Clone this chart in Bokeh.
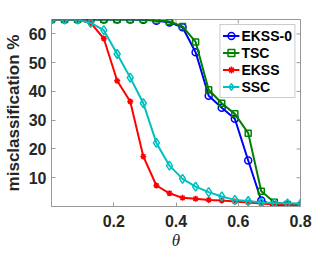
from bokeh.plotting import figure
from bokeh.models import Range1d, FixedTicker, Legend
from bokeh.embed import file_html
from bokeh.resources import INLINE

theta = [0.0, 0.042, 0.084, 0.126, 0.168, 0.211, 0.253, 0.295, 0.337, 0.379,
         0.421, 0.463, 0.505, 0.547, 0.589, 0.632, 0.674, 0.716, 0.758, 0.8]
ekss0 = [65, 65, 65, 65, 65, 65, 65, 64.9, 64.6, 64.0,
         62.3, 53.6, 38.5, 34.3, 30.5, 16.0, 2.1, 0.3, 0.1, 0.1]
tsc = [65, 65, 65, 65, 65, 65, 65, 65, 64.7, 64.3,
       62.6, 57.2, 40.6, 35.9, 32.2, 25.5, 5.3, 1.5, 0.7, 0.3]
ekss = [65, 65, 65, 63.8, 58.4, 43.7, 36.5, 17.4, 7.3, 4.6,
        3.0, 2.7, 2.3, 2.1, 1.7, 1.4, 1.0, 0.7, 0.5, 0.3]
ssc = [65, 65, 65, 63.8, 61.3, 53.0, 44.8, 35.9, 22.1, 14.2,
       9.6, 6.9, 5.0, 3.5, 2.3, 1.9, 1.4, 1.2, 1.1, 1.0]
x_ticks = [0.2, 0.4, 0.6, 0.8]
y_ticks = [10, 20, 30, 40, 50, 60]
x_min, x_max = 0.0, 0.8
y_min, y_max = 0, 65
x_label = "\u03b8"
y_label = "misclassification %"

AX = "#999999"
TXT = "#262626"
FONT = "Liberation Sans"

p = figure(width=332, height=253, output_backend="svg", toolbar_location=None,
           x_range=Range1d(x_min, x_max), y_range=Range1d(y_min, y_max),
           min_border_left=46, min_border_right=32, min_border_top=19,
           min_border_bottom=47)
p.grid.visible = False
p.outline_line_color = AX
p.background_fill_color = "white"
p.border_fill_color = "white"

for ax in (p.xaxis[0], p.yaxis[0]):
    ax.axis_line_color = AX
    ax.major_tick_line_color = AX
    ax.major_tick_in = 4
    ax.major_tick_out = 0
    ax.minor_tick_line_color = None
    ax.major_label_text_font = FONT
    ax.major_label_text_font_style = "bold"
    ax.major_label_text_color = TXT

p.xaxis.ticker = FixedTicker(ticks=x_ticks)
p.yaxis.ticker = FixedTicker(ticks=y_ticks)
p.xaxis.major_label_text_font_size = "16px"
p.yaxis.major_label_text_font_size = "16px"
p.xaxis.major_label_standoff = 8
p.yaxis.major_label_standoff = 5

p.yaxis.axis_label = y_label
p.yaxis.axis_label_text_font = FONT
p.yaxis.axis_label_text_font_style = "bold"
p.yaxis.axis_label_text_font_size = "17px"
p.yaxis.axis_label_text_color = TXT
p.yaxis.axis_label_standoff = 3

p.xaxis.axis_label = x_label
p.xaxis.axis_label_text_font = "Liberation Serif"
p.xaxis.axis_label_text_font_style = "italic"
p.xaxis.axis_label_text_font_size = "17px"
p.xaxis.axis_label_text_color = TXT
p.xaxis.axis_label_standoff = 1

# inward ticks on the top and right sides of the box
tick_dx = (x_max - x_min) * 4 / 254
tick_dy = (y_max - y_min) * 4 / 187
p.segment(x0=x_ticks, x1=x_ticks, y0=[y_max] * len(x_ticks),
          y1=[y_max - tick_dy] * len(x_ticks), line_color=AX, line_width=1)
p.segment(x0=[x_max] * len(y_ticks), x1=[x_max - tick_dx] * len(y_ticks),
          y0=y_ticks, y1=y_ticks, line_color=AX, line_width=1)

series = [
    ("EKSS-0", ekss0, "#0000ff", "circle", 7),
    ("TSC", tsc, "#008000", "square", 6),
    ("EKSS", ekss, "#ff0000", "asterisk", 6),
    ("SSC", ssc, "#00bfbf", "diamond", 9),
]
items = []
for name, ys, col, mk, sz in series:
    r1 = p.line(theta, ys, line_color=col, line_width=2)
    r2 = p.scatter(theta, ys, marker=mk, size=sz, line_color=col,
                   fill_color=None, line_width=1.5)
    items.append((name, [r1, r2]))

legend = Legend(items=items, location="top_right")
legend.margin = 5
legend.padding = 2
legend.spacing = 0
legend.label_height = 17
legend.glyph_height = 17
legend.glyph_width = 17
legend.label_standoff = 2
legend.label_text_font = FONT
legend.label_text_font_style = "bold"
legend.label_text_font_size = "14px"
legend.label_text_color = "black"
legend.border_line_color = AX
legend.border_line_width = 1
legend.background_fill_color = "white"
legend.background_fill_alpha = 1
p.add_layout(legend, "center")

open("out.html", "w").write(file_html(p, INLINE))
